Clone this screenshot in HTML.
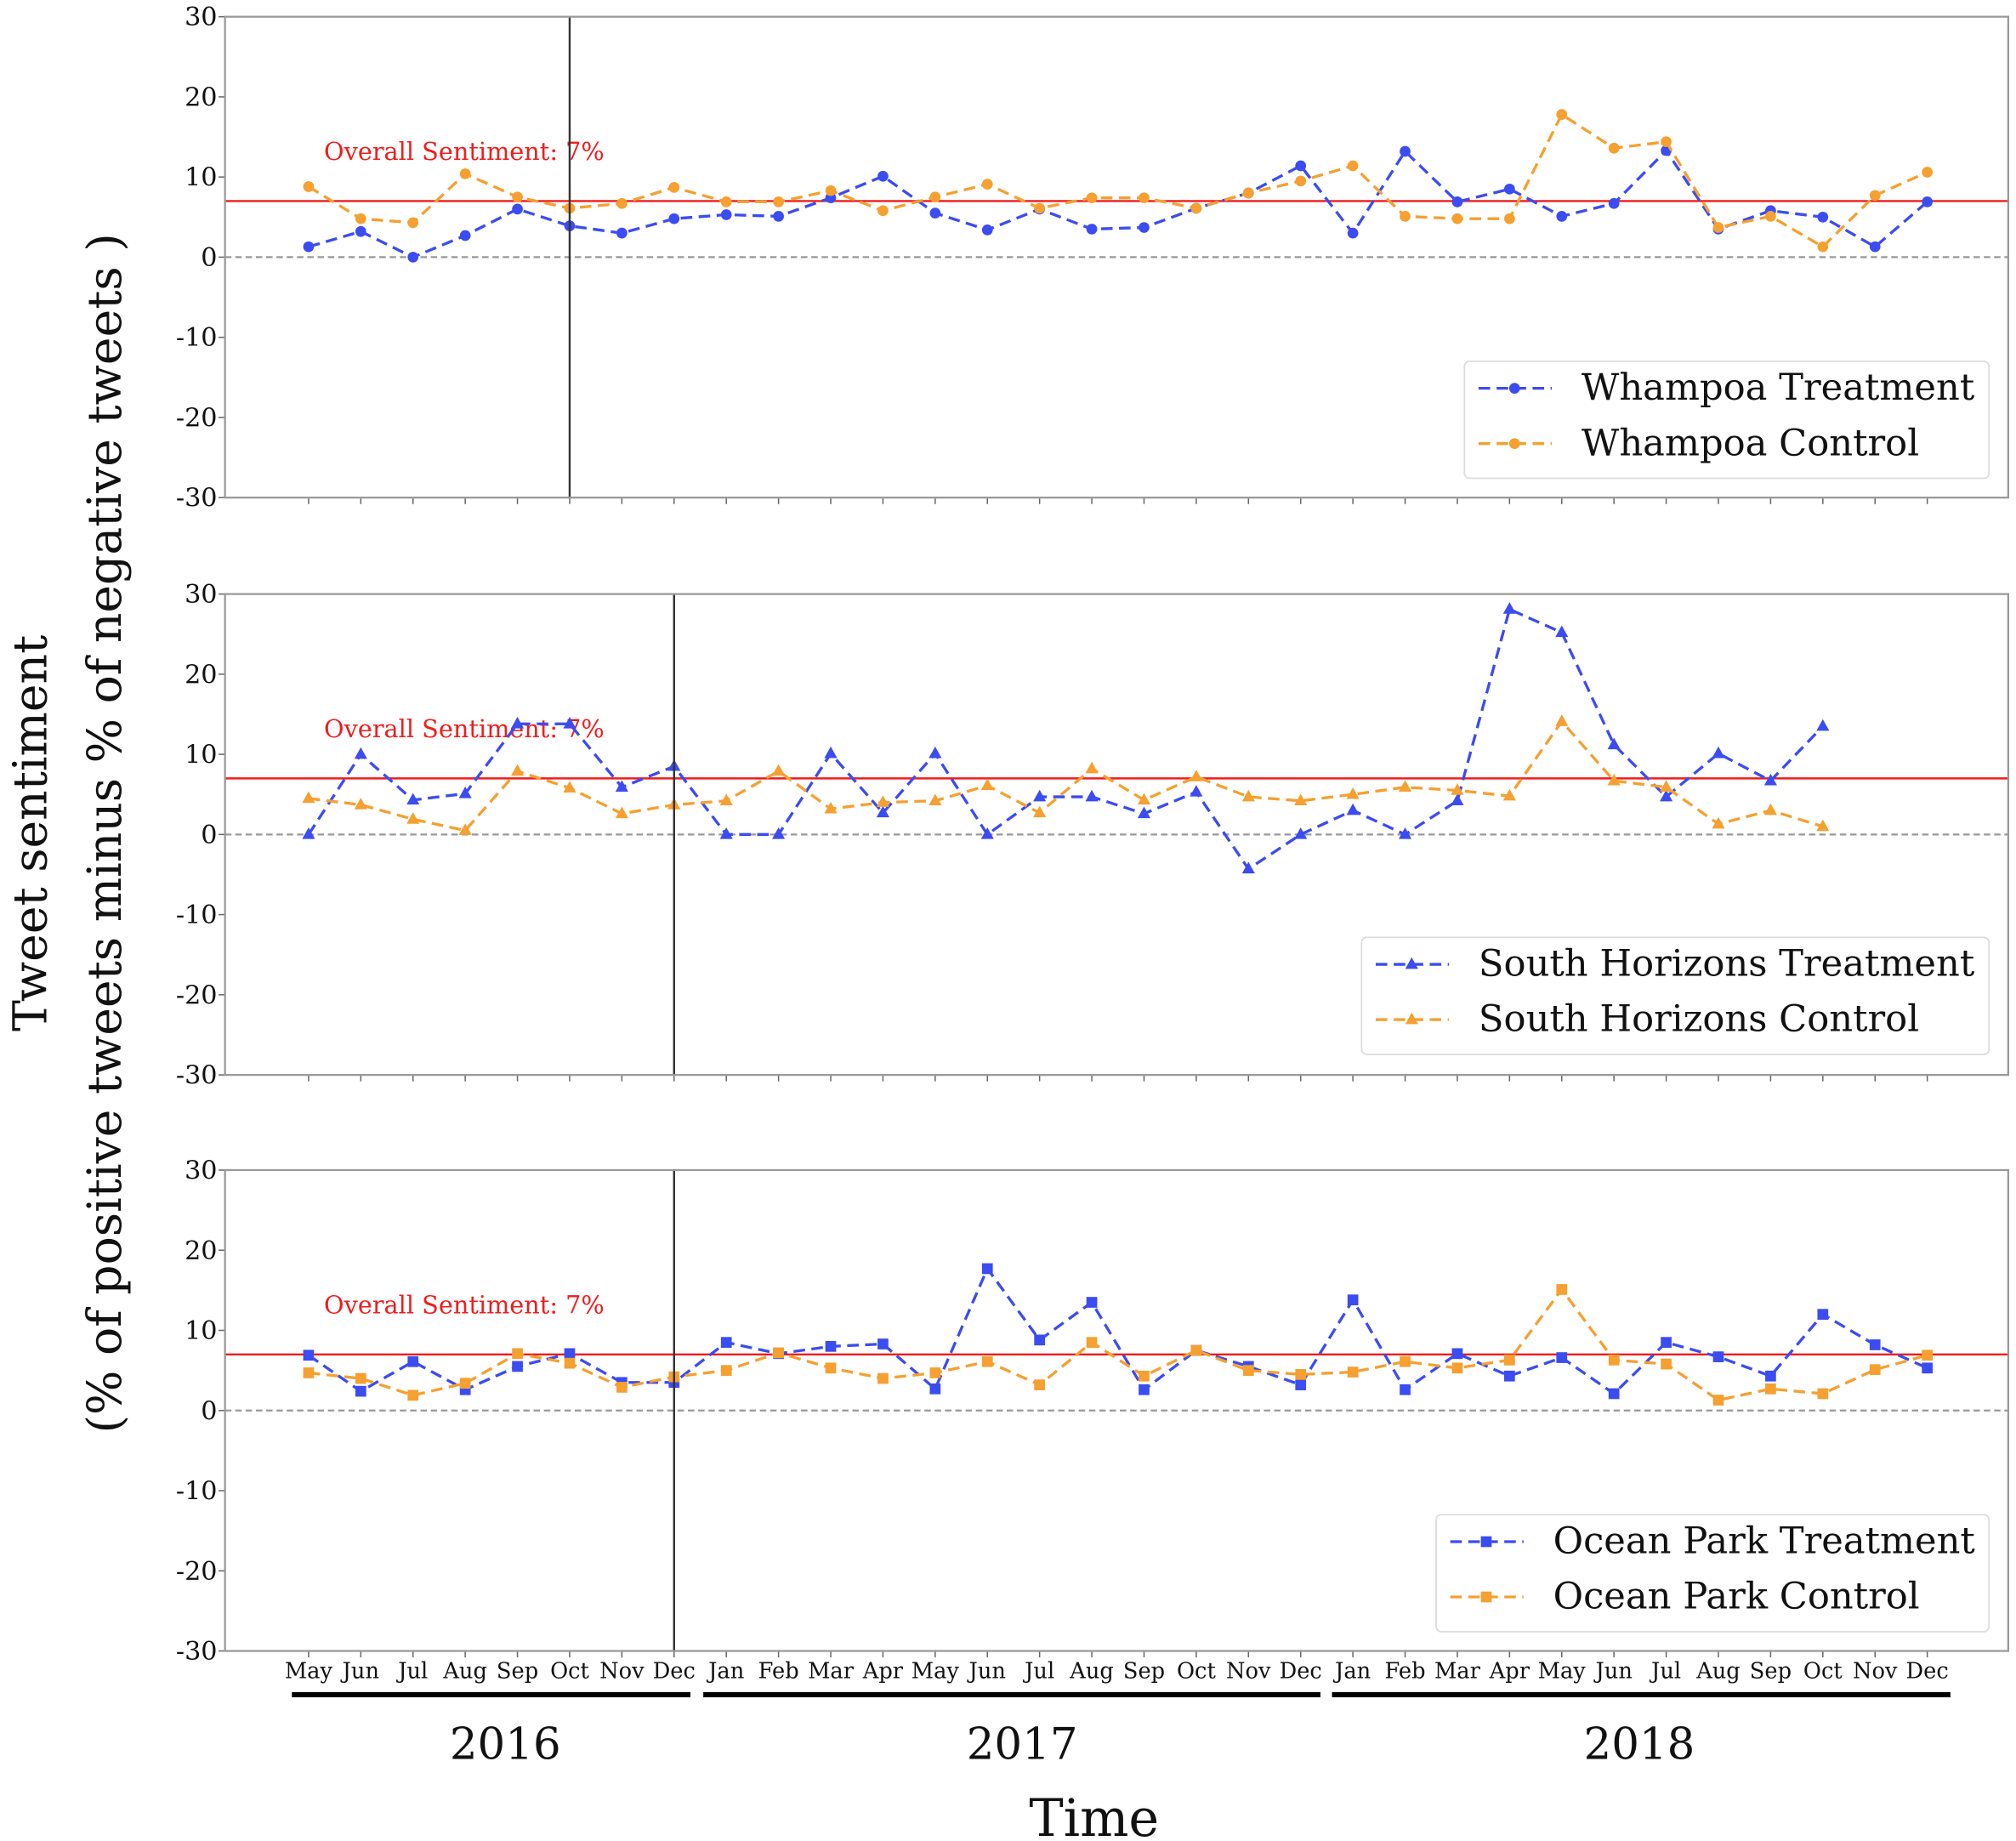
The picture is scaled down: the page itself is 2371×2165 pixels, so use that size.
<!DOCTYPE html>
<html><head><meta charset="utf-8"><style>
html,body{margin:0;padding:0;background:#fff}
svg{display:block}
text{font-family:"DejaVu Serif","Liberation Serif",serif}
</style></head><body>
<svg id="chart" width="2371" height="2165" viewBox="0 0 1568 1431.8" xmlns="http://www.w3.org/2000/svg"></svg>
<script>
const months = ["May","Jun","Jul","Aug","Sep","Oct","Nov","Dec","Jan","Feb","Mar","Apr","May","Jun","Jul","Aug","Sep","Oct","Nov","Dec","Jan","Feb","Mar","Apr","May","Jun","Jul","Aug","Sep","Oct","Nov","Dec"];
const yTicks = [30,20,10,0,-10,-20,-30];
const years = ["2016","2017","2018"];
const overall = 7;
const whampoaTreatment = [1.3,3.2,0,2.7,6,3.9,3,4.8,5.3,5.1,7.4,10.1,5.5,3.4,6,3.5,3.7,6.1,8,11.4,3,13.2,6.9,8.5,5.1,6.7,13.3,3.5,5.8,5,1.3,6.9];
const whampoaControl = [8.8,4.8,4.3,10.4,7.5,6.1,6.7,8.7,6.9,6.9,8.3,5.8,7.5,9.1,6.1,7.4,7.4,6.1,8,9.5,11.4,5.1,4.8,4.8,17.8,13.6,14.4,3.7,5.1,1.3,7.7,10.6];
const southTreatment = [0,10,4.3,5.1,13.8,13.8,5.9,8.5,0,0,10.1,2.7,10.1,0,4.7,4.7,2.6,5.3,-4.3,0,3,0,4.2,28.1,25.2,11.2,4.7,10.1,6.7,13.5];
const southControl = [4.5,3.7,1.9,0.5,7.9,5.8,2.6,3.7,4.2,7.9,3.2,4,4.2,6.1,2.7,8.2,4.3,7.2,4.7,4.2,5,5.9,5.5,4.8,14.1,6.7,5.9,1.3,3,1];
const oceanTreatment = [6.9,2.4,6.1,2.6,5.5,7.1,3.5,3.5,8.5,7.1,8,8.3,2.7,17.7,8.8,13.5,2.6,7.5,5.5,3.2,13.8,2.6,7.1,4.3,6.6,2.1,8.5,6.7,4.3,12,8.2,5.3];
const oceanControl = [4.7,4,1.9,3.4,7.1,5.9,2.9,4.2,5,7.2,5.3,4,4.7,6.1,3.2,8.5,4.3,7.5,5,4.5,4.8,6.1,5.3,6.3,15.1,6.3,5.8,1.3,2.7,2.1,5.1,6.9];

const NS="http://www.w3.org/2000/svg";
const svg=document.getElementById('chart');
function mk(tag,attrs,parent){const e=document.createElementNS(NS,tag);for(const k in attrs)e.setAttribute(k,attrs[k]);(parent||svg).appendChild(e);return e;}
const L=175,R=1562,H=374,X0=240,DX=(1499-240)/31;
const xS=i=>X0+i*DX;

const panels=[
 {top:13,vline:5,name:"whampoa",marker:"circle",series:[["Whampoa Treatment",whampoaTreatment,"#3b4cf0"],["Whampoa Control",whampoaControl,"#f5a030"]],leg:[1139,281,408,91]},
 {top:462,vline:7,name:"south-horizons",marker:"tri",series:[["South Horizons Treatment",southTreatment,"#3b4cf0"],["South Horizons Control",southControl,"#f5a030"]],leg:[1059,729,488,91]},
 {top:910,vline:7,name:"ocean-park",marker:"square",series:[["Ocean Park Treatment",oceanTreatment,"#3b4cf0"],["Ocean Park Control",oceanControl,"#f5a030"]],leg:[1117,1178,430,91]}
];
function marker(g,type,x,y,c){
 let m;
 if(type==="circle") m=mk('circle',{cx:x,cy:y,r:4.2,fill:c},g);
 else if(type==="square") m=mk('rect',{x:x-4.2,y:y-4.2,width:8.4,height:8.4,fill:c},g);
 else m=mk('polygon',{points:`${x},${y-5.5} ${x-5},${y+3.5} ${x+5},${y+3.5}`,fill:c},g);
 
 
}
panels.forEach((p,pi)=>{
 const yS=v=>p.top+(30-v)/60*H;
 const g=mk('g',{});
 
 
 yTicks.forEach(t=>{
  mk('line',{x1:L-5,x2:L,y1:yS(t),y2:yS(t),stroke:'#666','stroke-width':1},g);
  const tx=mk('text',{x:L-6,y:yS(t)+7,'text-anchor':'end','font-size':20,fill:'#111'},g);
  tx.textContent=t;
  
  
 });
 months.forEach((m,i)=>mk('line',{x1:xS(i),x2:xS(i),y1:p.top+H,y2:p.top+H+5,stroke:'#666','stroke-width':1},g));
 mk('line',{x1:L,x2:R,y1:yS(0),y2:yS(0),stroke:'#999','stroke-width':1.5,'stroke-dasharray':'5,3'},g);
 mk('line',{x1:L,x2:R,y1:yS(overall),y2:yS(overall),stroke:'#f21c1c','stroke-width':1.6},g);
 const ot=mk('text',{x:252,y:yS(overall)-32,'font-size':19,fill:'#f21c1c'},g);
 ot.textContent="Overall Sentiment: 7%";
 
 
 p.series.forEach(([nm,vals,c])=>{
  const sg=mk('g',{},g);
  
  
  mk('polyline',{points:vals.map((v,i)=>xS(i)+','+yS(v)).join(' '),fill:'none',stroke:c,'stroke-width':2.2,'stroke-dasharray':'9,5'},sg);
  vals.forEach((v,i)=>marker(sg,p.marker,xS(i),yS(v),c));
 });
 mk('line',{x1:xS(p.vline),x2:xS(p.vline),y1:p.top,y2:p.top+H,stroke:'#333','stroke-width':1.6},g);
 mk('rect',{x:L,y:p.top,width:R-L,height:H,fill:'none',stroke:'#999','stroke-width':1.5},g);
 const [lx,ly,lw,lh]=p.leg;
 const lg=mk('g',{},g);
 
 
 mk('rect',{x:lx,y:ly,width:lw,height:lh,rx:4,fill:'#fff',stroke:'#ddd','stroke-width':1.2},lg);
 p.series.forEach(([nm,vals,c],k)=>{
  const yy=ly+21+k*43;
  mk('line',{x1:lx+11,x2:lx+68,y1:yy,y2:yy,stroke:c,'stroke-width':2.2,'stroke-dasharray':'9,5'},lg);
  marker(lg,p.marker,lx+39,yy,c);
  const t=mk('text',{x:lx+91,y:yy+9,'font-size':28.6,fill:'#111'},lg);
  t.textContent=nm;
  
  
 });
});
months.forEach((m,i)=>{
 const t=mk('text',{x:xS(i),y:1305,'text-anchor':'middle','font-size':17,fill:'#111'});
 t.textContent=m;
 
 
});
const yearSpans=[[227,537,393],[547,1027,795],[1036,1517,1275]];
years.forEach((y,k)=>{
 const [a,b,c]=yearSpans[k];
 mk('line',{x1:a,x2:b,y1:1318,y2:1318,stroke:'#000','stroke-width':4});
 const t=mk('text',{x:c,y:1368,'text-anchor':'middle','font-size':34,fill:'#111'});
 t.textContent=y;
 
 
});
const xt=mk('text',{x:851,y:1428,'text-anchor':'middle','font-size':40,fill:'#111'});
xt.textContent="Time";


const y1=mk('text',{x:0,y:0,'text-anchor':'middle','font-size':36.5,fill:'#111',transform:'translate(36,648) rotate(-90)'});
y1.textContent="Tweet sentiment";


const y2=mk('text',{x:0,y:0,'text-anchor':'middle','font-size':36.5,fill:'#111',transform:'translate(94,648) rotate(-90)'});
y2.textContent="(% of positive tweets minus % of negative tweets )";


</script>
</body></html>
